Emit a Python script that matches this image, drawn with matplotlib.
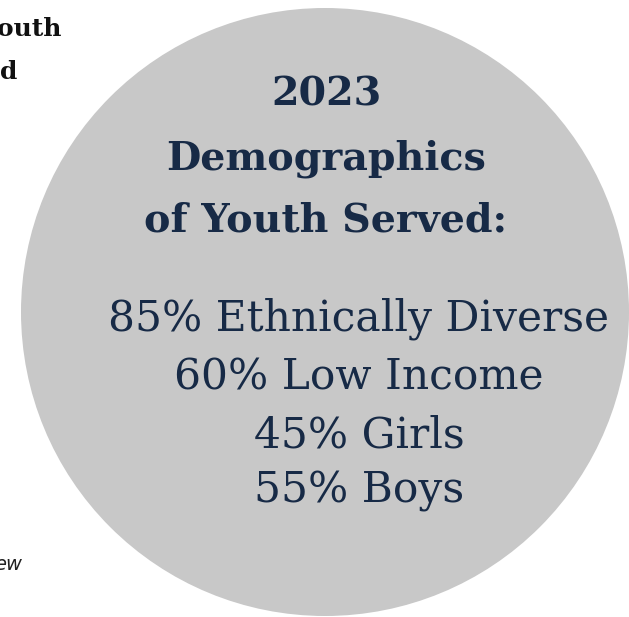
import matplotlib.pyplot as plt
from matplotlib.patches import Circle

# text content
year = "2023"
title_lines = ["Demographics", "of Youth Served:"]
stat_values = [85, 60, 45, 55]
stat_labels = ["Ethnically Diverse", "Low Income", "Girls", "Boys"]

navy = "#172a46"
grey = "#c8c8c8"

fig = plt.figure(figsize=(6.29, 6.17), dpi=100)
ax = fig.add_axes([0, 0, 1, 1])
ax.set_xlim(0, 629)
ax.set_ylim(617, 0)
ax.axis("off")

# big grey disc
ax.add_patch(Circle((325, 312), 304, color=grey, lw=0))

# cut off text from the neighbouring panel
ax.text(62, 36, "outh", fontsize=18, fontweight="bold", family="DejaVu Serif",
        color="#111111", ha="right", va="baseline")
ax.text(17, 79, "d", fontsize=18, fontweight="bold", family="DejaVu Serif",
        color="#111111", ha="right", va="baseline")
ax.text(22, 570, "ew", fontsize=14, style="italic", family="DejaVu Sans",
        color="#222222", ha="right", va="baseline")

# heading
heads = [year] + title_lines
head_y = [106, 170, 231]
for s, y in zip(heads, head_y):
    ax.text(326, y, s, fontsize=28.5, fontweight="bold", family="DejaVu Serif",
            color=navy, ha="center", va="baseline")

# stats
stat_y = [331, 390, 447, 503]
for v, lab, y in zip(stat_values, stat_labels, stat_y):
    ax.text(359, y, f"{v}% {lab}", fontsize=30.5, family="DejaVu Serif",
            color=navy, ha="center", va="baseline")

fig.savefig("out.png", dpi=100)
